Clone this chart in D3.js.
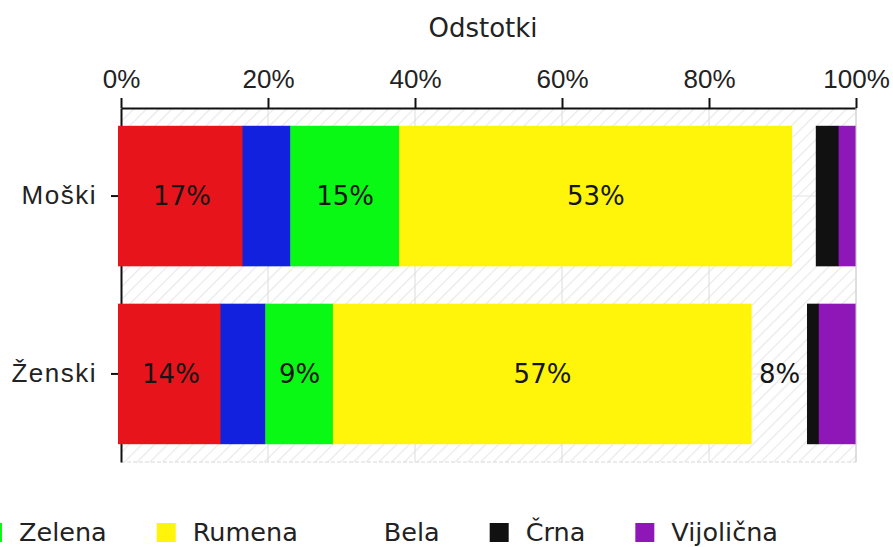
<!DOCTYPE html>
<html>
<head>
<meta charset="utf-8">
<script src="https://cdn.jsdelivr.net/npm/d3@7"></script>
<style>
  body { margin: 0; background: #fff; }
  svg { font-family: "DejaVu Sans", Verdana, sans-serif; }
</style>
</head>
<body>
<div id="chart"></div>
<script>
// podatki
const kategorije = ["Moški", "Ženski"];
const barve = ["Rdeča", "Modra", "Zelena", "Rumena", "Bela", "Črna", "Vijolična"];
const moski = [16.6, 6.5, 14.8, 53.4, 3.3, 3.1, 2.3];
const zenski = [13.6, 6.1, 9.2, 56.9, 7.6, 1.6, 5.0];
const barvneKode = ["#e8141b", "#1121dd", "#0af914", "#fff50a", "#ffffff", "#111111", "#8f17b8"];
const oznakeOsi = [0, 20, 40, 60, 80, 100];

function narisi() {
    const width = 893;
    const height = 547;
    const fontSize = 26;

    const svg = d3.select("#chart")
        .append("svg")
        .attr("width", width)
        .attr("height", height);

    // tabela za sklad
    const vrstice = kategorije.map((k, i) => {
        const o = { kategorija: k };
        const vals = i === 0 ? moski : zenski;
        barve.forEach((b, j) => { o[b] = vals[j]; });
        return o;
    });
    const sklad = d3.stack().keys(barve)(vrstice);

    const x = d3.scaleLinear().domain([0, 100]).range([121, 856]);
    const y = d3.scaleBand().domain(kategorije).range([108, 462])
        .paddingInner(0.21).paddingOuter(0.1);
    const barva = d3.scaleOrdinal().domain(barve).range(barvneKode);

    // šrafirano ozadje
    const defs = svg.append("defs");
    const pat = defs.append("pattern")
        .attr("id", "srafura")
        .attr("patternUnits", "userSpaceOnUse")
        .attr("width", 9).attr("height", 9)
        .attr("patternTransform", "rotate(45)");
    pat.append("line")
        .attr("x1", 0).attr("y1", 0).attr("x2", 0).attr("y2", 9)
        .attr("stroke", "#e9e9e9").attr("stroke-width", 2.5);

    svg.append("rect")
        .attr("x", x(0)).attr("y", 108)
        .attr("width", x(100) - x(0)).attr("height", 462 - 108)
        .attr("fill", "url(#srafura)");

    // mreža
    svg.append("g").selectAll("line")
        .data(oznakeOsi.slice(1))
        .join("line")
        .attr("x1", d => x(d)).attr("x2", d => x(d))
        .attr("y1", 108).attr("y2", 462)
        .attr("stroke", "#dcdcdc").attr("stroke-width", 1);
    svg.append("g").selectAll("line")
        .data(kategorije)
        .join("line")
        .attr("x1", x(0)).attr("x2", x(100))
        .attr("y1", d => y(d) + y.bandwidth() / 2)
        .attr("y2", d => y(d) + y.bandwidth() / 2)
        .attr("stroke", "#e2e2e2");
    svg.append("line")
        .attr("x1", x(0)).attr("x2", x(100)).attr("y1", 462).attr("y2", 462)
        .attr("stroke", "#d8d8d8").attr("stroke-dasharray", "4,2");

    // osi
    const zgornja = svg.append("g")
        .attr("transform", "translate(0,108)")
        .call(d3.axisTop(x).tickValues(oznakeOsi).tickSize(10).tickSizeOuter(0)
            .tickPadding(10).tickFormat(d => d + "%"));
    zgornja.selectAll("text").attr("font-size", fontSize).attr("fill", "#222");
    zgornja.selectAll("line, path").attr("stroke", "#111").attr("stroke-width", 2);

    const leva = svg.append("g")
        .attr("transform", "translate(" + x(0) + ",0)")
        .call(d3.axisLeft(y).tickSize(10).tickSizeOuter(0).tickPadding(14));
    leva.selectAll("text").attr("font-size", fontSize).attr("fill", "#222")
        .attr("letter-spacing", "1.5px");
    leva.selectAll("line, path").attr("stroke", "#111").attr("stroke-width", 2);

    // stolpci
    const skupine = svg.append("g").selectAll("g")
        .data(sklad)
        .join("g")
        .attr("fill", d => barva(d.key))
        .attr("fill-opacity", d => d.key === "Bela" ? 0 : 1);

    skupine.selectAll("rect")
        .data(d => d)
        .join("rect")
        .attr("x", d => d[0] === 0 ? x(0) - 3 : x(d[0]) - 0.5)
        .attr("y", d => y(d.data.kategorija))
        .attr("width", d => d[0] === 0 ? x(d[1]) - x(0) + 3 : x(d[1]) - x(d[0]) + 0.5)
        .attr("height", y.bandwidth());

    // oznake vrednosti
    svg.append("g").selectAll("g")
        .data(sklad)
        .join("g")
        .selectAll("text")
        .data(d => d.filter(s => s[1] - s[0] >= 7.5))
        .join("text")
        .attr("x", d => (x(d[0]) + x(d[1])) / 2)
        .attr("y", d => y(d.data.kategorija) + y.bandwidth() / 2)
        .attr("dy", "0.36em")
        .attr("text-anchor", "middle")
        .attr("font-size", fontSize)
        .attr("fill", "#151515")
        .text(d => Math.round(d[1] - d[0]) + "%");

    svg.append("line")
        .attr("x1", x(100)).attr("x2", x(100)).attr("y1", 108).attr("y2", 462)
        .attr("stroke", "#d0d0d0");

    // naslov osi
    svg.append("text")
        .attr("x", 483).attr("y", 37)
        .attr("text-anchor", "middle")
        .attr("font-size", fontSize)
        .attr("fill", "#222")
        .text("Odstotki");

    // legenda
    const legenda = svg.append("g");
    const elementi = legenda.selectAll("g")
        .data(barve)
        .join("g");
    elementi.append("rect")
        .attr("width", 19).attr("height", 19)
        .attr("y", 523)
        .attr("fill", d => barva(d));
    elementi.append("text")
        .attr("x", 36).attr("y", 541)
        .attr("font-size", 25.5)
        .attr("fill", "#222")
        .text(d => d);

    // razporeditev: Zelena se začne pri x = -17
    let pos = 0;
    const odmiki = [];
    elementi.each(function () {
        odmiki.push(pos);
        pos += 36 + d3.select(this).select("text").node().getComputedTextLength() + 50;
    });
    const zamik = -17 - odmiki[barve.indexOf("Zelena")];
    elementi.attr("transform", (d, i) => "translate(" + (odmiki[i] + zamik) + ",0)");
}

narisi();
</script>
</body>
</html>
